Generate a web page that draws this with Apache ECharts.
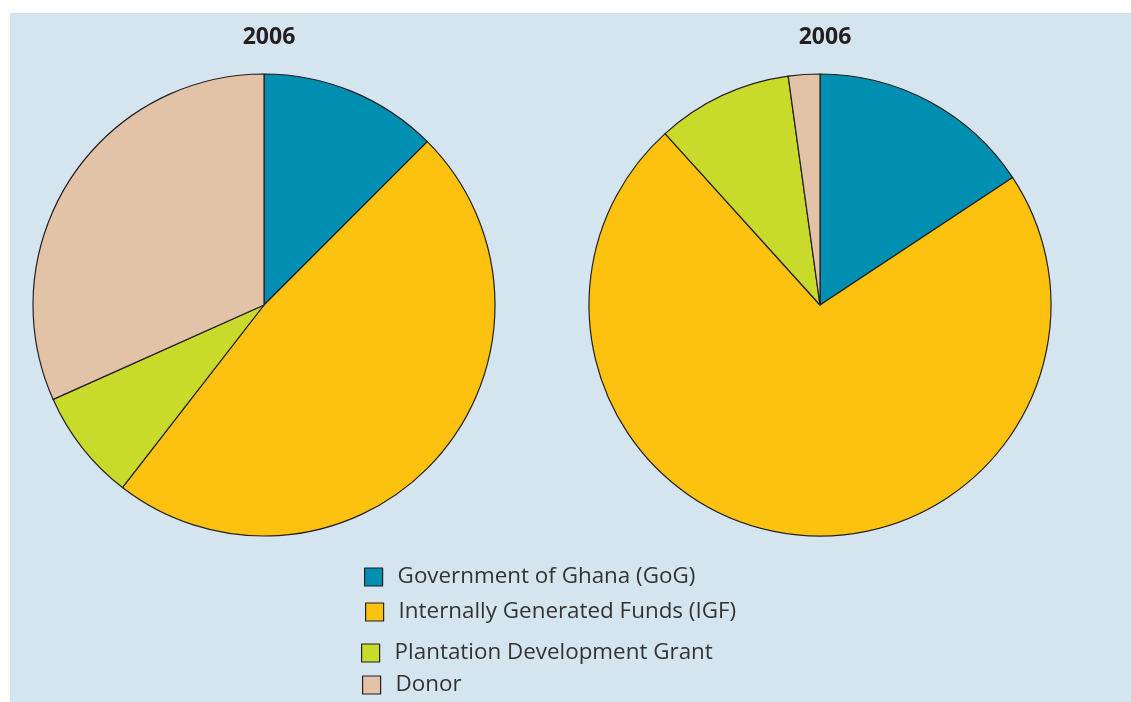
<!DOCTYPE html>
<html>
<head>
<meta charset="utf-8">
<title>Funding sources 2006</title>
<script src="https://cdn.jsdelivr.net/npm/echarts@6/dist/echarts.min.js"></script>
<style>
  html, body { margin: 0; padding: 0; background: #ffffff; }
  #chart { width: 1131px; height: 702px; }
</style>
</head>
<body>
<div id="chart"></div>
<script>
// Funding sources, share of total (%)
const categories = [
  'Government of Ghana (GoG)',
  'Internally Generated Funds (IGF)',
  'Plantation Development Grant',
  'Donor'
];
const leftValues = [12.5, 48.0, 7.8, 31.7];
const rightValues = [15.7, 72.6, 9.5, 2.2];
const pieTitles = ['2006', '2006'];
const colors = ['#008eb1', '#fdc110', '#c9db2a', '#e2c3a8'];

const chart = echarts.init(document.getElementById('chart'), null, { renderer: 'canvas' });

const font = '"Open Sans", "Noto Sans", sans-serif';

function pieSeries(values, cx) {
  return {
    type: 'pie',
    center: [cx, 305],
    radius: [0, 231],
    startAngle: 90,
    clockwise: true,
    silent: true,
    label: { show: false },
    labelLine: { show: false },
    itemStyle: { borderColor: '#231f20', borderWidth: 1.2 },
    emphasis: { disabled: true },
    data: categories.map((name, i) => ({
      name: name,
      value: values[i],
      itemStyle: { color: colors[i] }
    }))
  };
}

// one legend per row so each row sits on its own line
const legendRows = [
  { left: 364, top: 566 },
  { left: 365, top: 601 },
  { left: 361, top: 642 },
  { left: 362, top: 674 }
];

const legends = categories.map((name, i) => ({
  data: [name],
  orient: 'vertical',
  left: legendRows[i].left,
  top: legendRows[i].top,
  padding: 0,
  icon: 'rect',
  itemWidth: 18,
  itemHeight: 18,
  selectedMode: false,
  itemStyle: { borderColor: '#231f20', borderWidth: 1.2 },
  textStyle: {
    fontFamily: font,
    fontSize: 22.4,
    lineHeight: 22,
    color: '#333333',
    padding: [0, 0, 0, 10]
  }
}));

chart.setOption({
  animation: false,
  backgroundColor: '#ffffff',
  graphic: [{
    type: 'rect',
    z: -10,
    silent: true,
    shape: { x: 10, y: 13, width: 1121, height: 689 },
    style: { fill: '#d5e5f0' }
  }],
  title: [
    {
      text: pieTitles[0], left: 264, top: 21, textAlign: 'center',
      textStyle: { fontFamily: font, fontSize: 23, fontWeight: 'bold', color: '#231f20' }
    },
    {
      text: pieTitles[1], left: 820, top: 21, textAlign: 'center',
      textStyle: { fontFamily: font, fontSize: 23, fontWeight: 'bold', color: '#231f20' }
    }
  ],
  legend: legends,
  series: [pieSeries(leftValues, 264), pieSeries(rightValues, 820)]
});
</script>
</body>
</html>
